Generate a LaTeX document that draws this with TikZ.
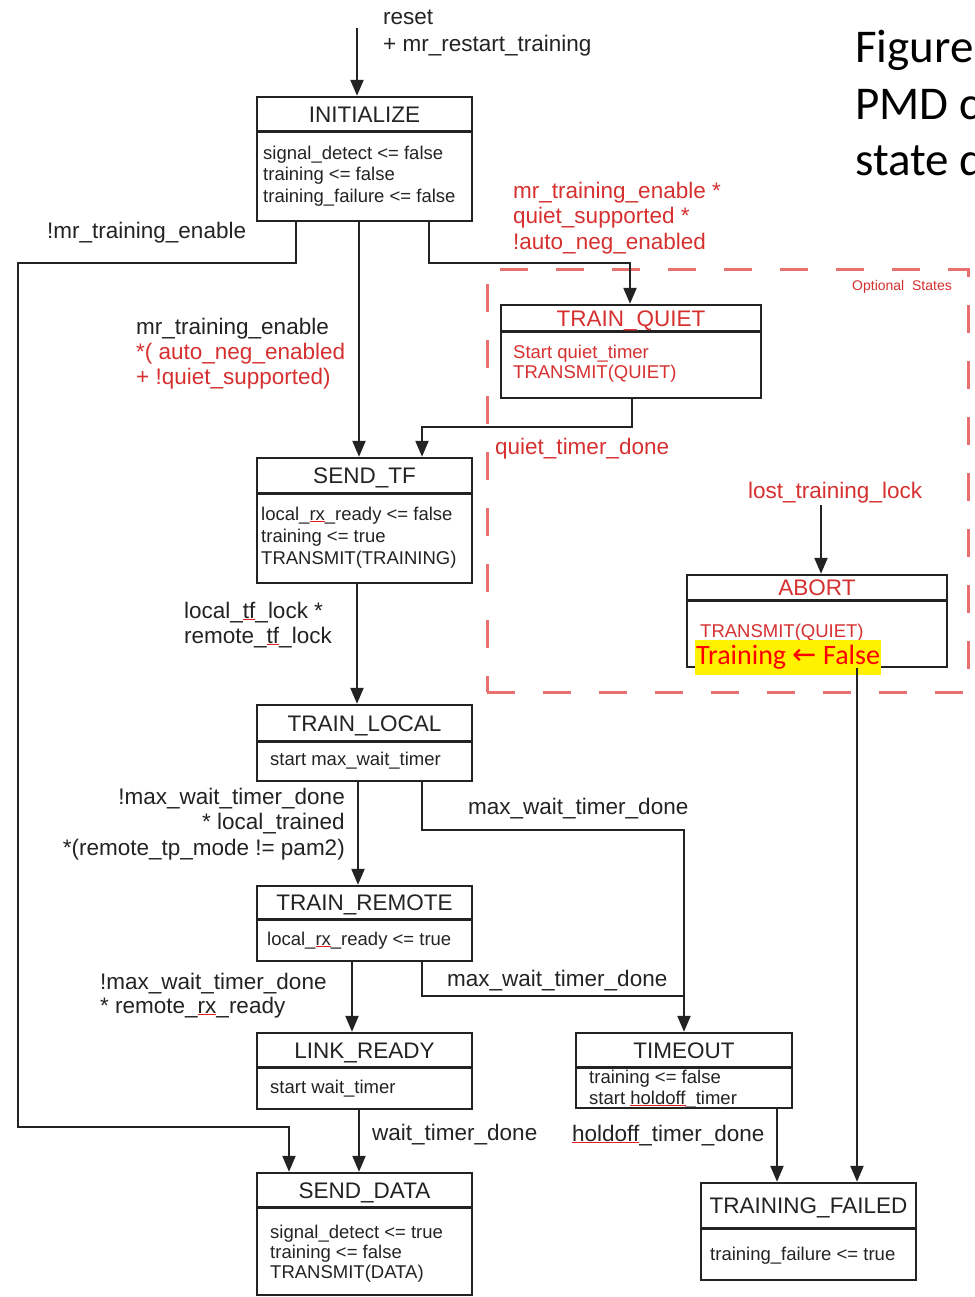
\documentclass[tikz,border=0pt]{standalone}
\usepackage{fontspec}
\usetikzlibrary{arrows.meta,fit}
\newfontfamily\arialf{Liberation Sans}
\newfontfamily\calib{Carlito}
\newfontfamily\djv{DejaVu Sans}
\definecolor{ink}{RGB}{35,35,35}
\definecolor{redtxt}{RGB}{214,48,48}
\definecolor{optred}{RGB}{234,112,112}
\definecolor{sqred}{RGB}{228,30,30}
\newcommand\lblfont{\arialf\fontsize{22.5}{25}\selectfont}
\newcommand\bodyfont{\arialf\fontsize{18.5}{22}\selectfont}
% spell-check style red underline
\newcommand\sq[1]{\textcolor{sqred}{\underline{\textcolor{ink}{#1}}}}
\tikzset{
  wire/.style={draw=ink, line width=2.2pt},
  arr/.style={wire, -{Triangle[length=16pt,width=13pt]}},
  stbox/.style={draw=ink, line width=2.4pt, inner sep=0pt},
  divline/.style={draw=ink, line width=3pt},
  stitle/.style={anchor=base, inner sep=0pt, font=\lblfont, text=ink},
  body/.style={anchor=base west, inner sep=0pt, font=\bodyfont, text=ink},
  lbl/.style={anchor=base west, inner sep=0pt, font=\lblfont, text=ink},
  lblr/.style={anchor=base east, inner sep=0pt, font=\lblfont, text=ink},
  optbox/.style={draw=optred, line width=3pt, dash pattern=on 28pt off 28pt, inner sep=0pt},
}
% state box: name, left, top, right, divider, bottom, title
\newcommand\statebox[7]{%
  \node[stbox, fit={(#2,#3) (#4,#6)}] (#1) {};
  \draw[divline] (#1.west |- 0,#5) -- (#1.east |- 0,#5);
  \node[stitle] (#1-t) at ({(#2+#4)/2},{(#3+#5)/2+8}) {#7};
}
\begin{document}
\begin{tikzpicture}[x=1pt,y=-1pt]
\useasboundingbox (0,0) rectangle (974,1297);
\clip (0,0) rectangle (974,1297);
\fill[white] (0,0) rectangle (974,1297);

% caption (runs off the right edge)
\node[anchor=base west, inner sep=0pt, font=\calib\fontsize{47}{57}\selectfont] (cap1) at (855,63) {Figure};
\node[anchor=base west, inner sep=0pt, font=\calib\fontsize{47}{57}\selectfont] (cap2) at (855,120) {PMD c};
\node[anchor=base west, inner sep=0pt, font=\calib\fontsize{47}{57}\selectfont] (cap3) at (855,176) {state d};

% optional states region
\node[optbox, fit={(487,269) (968,692)}] (opt) {};
\node[anchor=base east, inner sep=0pt, text=redtxt, font=\arialf\fontsize{14}{16}\selectfont] (optlbl) at (952,290) {Optional\ \ States};

% states
\statebox{init}{257}{97}{472}{132}{221}{INITIALIZE}
\node[body] (init-b1) at (263,160) {signal\_detect <= false};
\node[body] (init-b2) at (263,181) {training <= false};
\node[body] (init-b3) at (263,203) {training\_failure <= false};

\statebox{tq}{501}{305}{761}{331}{398}{\textcolor{redtxt}{TRAIN\_QUIET}}
\node[body, text=redtxt] (tq-b1) at (513,358) {Start\ quiet\_timer};
\node[body, text=redtxt] (tq-b2) at (513,378) {TRANSMIT(QUIET)};

\statebox{sendtf}{257}{458}{472}{493}{583}{SEND\_TF}
\node[body] (sendtf-b1) at (261,520) {local\_\sq{rx}\_ready <= false};
\node[body] (sendtf-b2) at (261,542) {training <= true};
\node[body] (sendtf-b3) at (261,564) {TRANSMIT(TRAINING)};

\statebox{abort}{687}{575}{947}{600}{667}{\textcolor{redtxt}{ABORT}}
\node[body, text=redtxt] (abort-b1) at (700,637) {TRANSMIT(QUIET)};
\node[anchor=west, fill=yellow, text=red, inner xsep=1pt, inner ysep=0pt,
      minimum height=35pt, font=\calib\fontsize{28}{31}\selectfont] (hl) at (695,657)
      {Training {\djv\fontsize{29}{31}\selectfont ←} False};

\statebox{tl}{257}{705}{472}{741}{781}{TRAIN\_LOCAL}
\node[body] (tl-b1) at (270,765) {start\ max\_wait\_timer};

\statebox{tr}{257}{886}{472}{919}{961}{TRAIN\_REMOTE}
\node[body] (tr-b1) at (267,945) {local\_\sq{rx}\_ready <= true};

\statebox{lr}{257}{1033}{472}{1067}{1109}{LINK\_READY}
\node[body] (lr-b1) at (270,1093) {start\ wait\_timer};

\statebox{sd}{257}{1173}{472}{1207}{1295}{SEND\_DATA}
\node[body] (sd-b1) at (270,1238) {signal\_detect <= true};
\node[body] (sd-b2) at (270,1258) {training <= false};
\node[body] (sd-b3) at (270,1278) {TRANSMIT(DATA)};

\statebox{to}{576}{1033}{792}{1067}{1108}{TIMEOUT}
\node[body] (to-b1) at (589,1083) {training <= false};
\node[body] (to-b2) at (589,1104) {start \sq{holdoff}\_timer};

\statebox{tf}{701}{1183}{916}{1228}{1280}{TRAINING\_FAILED}
\node[body] (tf-b1) at (710,1260) {training\_failure <= true};

% entry
\coordinate (rst) at (357,28);
\draw[arr] (rst) -- (rst |- init.north);
\node[lbl] (rst-l1) at (383,25) {reset};
\node[lbl] (rst-l2) at (383,52) {+ mr\_restart\_training};

% INITIALIZE -> SEND_DATA (training disabled)
\coordinate (l1) at (296,263);
\coordinate (l2) at (18,263);
\coordinate (l3) at (18,1127);
\coordinate (l4) at (289,1127);
\draw[arr] (init.south -| l1) -- (l1) -- (l2) -- (l3) -- (l4) -- (sd.north -| l4);
\node[lbl] (g-dis) at (47,239) {!mr\_training\_enable};

% INITIALIZE -> SEND_TF
\coordinate (m1) at (359,300);
\draw[arr] (init.south -| m1) -- (sendtf.north -| m1);
\node[lbl] (g-en1) at (136,334) {mr\_training\_enable};
\node[lbl, text=redtxt] (g-en2) at (136,359) {*( auto\_neg\_enabled};
\node[lbl, text=redtxt] (g-en3) at (136,384) {+ !quiet\_supported)};

% INITIALIZE -> TRAIN_QUIET
\coordinate (q1) at (429,263);
\coordinate (q2) at (630,263);
\draw[arr] (init.south -| q1) -- (q1) -- (q2) -- (tq.north -| q2);
\node[lbl, text=redtxt] (g-q1) at (513,199) {mr\_training\_enable *};
\node[lbl, text=redtxt] (g-q2) at (513,224) {quiet\_supported *};
\node[lbl, text=redtxt] (g-q3) at (513,249) {!auto\_neg\_enabled};

% TRAIN_QUIET -> SEND_TF
\coordinate (q3) at (632,427);
\coordinate (q4) at (422,427);
\draw[arr] (tq.south -| q3) -- (q3) -- (q4) -- (sendtf.north -| q4);
\node[lbl, text=redtxt] (g-qd) at (495,454) {quiet\_timer\_done};

% lost lock -> ABORT
\coordinate (ab) at (821,505);
\draw[arr] (ab) -- (abort.north -| ab);
\node[lbl, text=redtxt] (g-lost) at (748,498) {lost\_training\_lock};

% SEND_TF -> TRAIN_LOCAL
\coordinate (s1) at (357,650);
\draw[arr] (sendtf.south -| s1) -- (tl.north -| s1);
\node[lbl] (g-lk1) at (184,618) {local\_\sq{tf}\_lock *};
\node[lbl] (g-lk2) at (184,643) {remote\_\sq{tf}\_lock};

% TRAIN_LOCAL -> TRAIN_REMOTE
\coordinate (s2) at (358,830);
\draw[arr] (tl.south -| s2) -- (tr.north -| s2);
\node[lblr] (g-tl1) at (345,804) {!max\_wait\_timer\_done};
\node[lblr] (g-tl2) at (345,829) {* local\_trained};
\node[lblr] (g-tl3) at (345,855) {*(remote\_tp\_mode != pam2)};

% TRAIN_LOCAL -> TIMEOUT
\coordinate (t1) at (422,830);
\coordinate (t2) at (684,830);
\draw[arr] (tl.south -| t1) -- (t1) -- (t2) -- (to.north -| t2);
\node[lbl] (g-mw1) at (468,814) {max\_wait\_timer\_done};

% TRAIN_REMOTE -> TIMEOUT (joins)
\coordinate (t3) at (422,996);
\coordinate (t4) at (684,996);
\draw[wire] (tr.south -| t3) -- (t3) -- (t4);
\node[lbl] (g-mw2) at (447,986) {max\_wait\_timer\_done};

% TRAIN_REMOTE -> LINK_READY
\coordinate (s3) at (352,1000);
\draw[arr] (tr.south -| s3) -- (lr.north -| s3);
\node[lbl] (g-tr1) at (100,989) {!max\_wait\_timer\_done};
\node[lbl] (g-tr2) at (100,1013) {* remote\_\sq{rx}\_ready};

% LINK_READY -> SEND_DATA
\coordinate (s4) at (359,1140);
\draw[arr] (lr.south -| s4) -- (sd.north -| s4);
\node[lbl] (g-wt) at (372,1140) {wait\_timer\_done};

% TIMEOUT -> TRAINING_FAILED
\coordinate (s5) at (777,1140);
\draw[arr] (to.south -| s5) -- (tf.north -| s5);
\node[lbl] (g-ho) at (572,1141) {\sq{holdoff}\_timer\_done};

% ABORT -> TRAINING_FAILED
\coordinate (s6) at (857,1000);
\draw[arr] (abort.south -| s6) -- (tf.north -| s6);
\end{tikzpicture}
\end{document}
